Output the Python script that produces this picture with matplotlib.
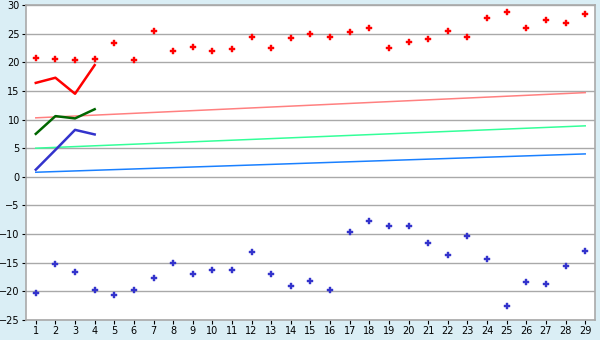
import matplotlib.pyplot as plt

days = list(range(1, 30))

# upper scatter (red) and lower scatter (blue)
high_pts = [20.8, 20.6, 20.4, 20.6, 23.4, 20.4, 25.5, 22.0, 22.7, 22.0,
            22.3, 24.4, 22.5, 24.2, 24.9, 24.4, 25.3, 26.0, 22.5, 23.5,
            24.1, 25.5, 24.4, 27.7, 28.8, 26.0, 27.4, 26.9, 28.4]
low_pts = [-20.2, -15.3, -16.7, -19.7, -20.7, -19.8, -17.7, -15.1, -16.9, -16.2,
           -16.2, -13.2, -16.9, -19.1, -18.2, -19.7, -9.7, -7.8, -8.5, -8.5,
           -11.6, -13.7, -10.4, -14.3, -22.6, -18.3, -18.8, -15.6, -12.9]

# short lines over the first four days
short_x = [1, 2, 3, 4]
red_line = [16.4, 17.3, 14.5, 19.5]
green_line = [7.5, 10.6, 10.2, 11.8]
blue_line = [1.25, 4.7, 8.2, 7.4]

# trend lines (start / end)
trend_x = [1, 29]
trend_pink = [10.3, 14.7]
trend_green = [5.0, 8.9]
trend_blue = [0.8, 4.0]

yticks = list(range(-25, 31, 5))

bg = '#DAEEF5'
fig = plt.figure(figsize=(6, 3.4), dpi=100, facecolor=bg)
ax = fig.add_axes([0.0433, 0.0588, 0.9484, 0.9265])
ax.set_facecolor('white')

ax.plot(trend_x, trend_pink, color='#FF8080', lw=1.1)
ax.plot(trend_x, trend_green, color='#33FF99', lw=1.1)
ax.plot(trend_x, trend_blue, color='#1A80FF', lw=1.1)

ax.plot(short_x, red_line, color='#FF0000', lw=1.8)
ax.plot(short_x, green_line, color='#006600', lw=1.8)
ax.plot(short_x, blue_line, color='#3333CC', lw=1.8)

ax.plot(days, high_pts, ls='none', marker='P', ms=5, color='#FF0000', mew=0.3)
ax.plot(days, low_pts, ls='none', marker='P', ms=5, color='#3333CC', mew=0.3)

ax.set_xlim(0.5, 29.5)
ax.set_ylim(-25, 30)
ax.set_xticks(days)
ax.set_yticks(yticks)
ax.yaxis.grid(True, color='#A9A9A9', lw=1)
ax.set_axisbelow(True)
for s in ax.spines.values():
    s.set_color('#A9A9A9')
    s.set_linewidth(1.2)
ax.tick_params(axis='both', labelsize=7, length=3, color='black', pad=1.5)

fig.savefig('out.png', dpi=100, facecolor=bg)
